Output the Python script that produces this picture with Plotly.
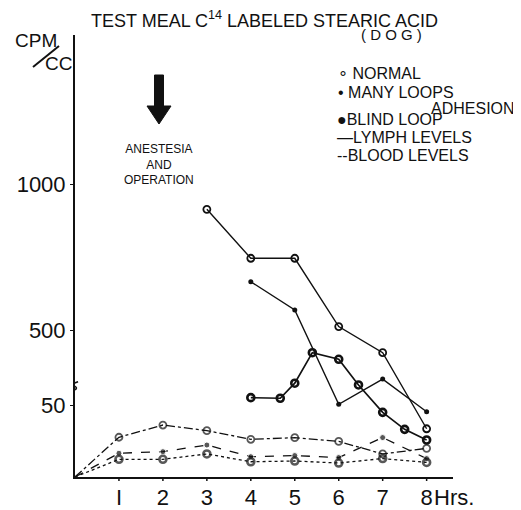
import plotly.graph_objects as go

# ---------------- data (CPM/CC) ----------------
blood_hours = [0, 1, 2, 3, 4, 5, 6, 7, 8]
normal_blood = [0, 27.6, 36.1, 32.2, 26.2, 27.3, 24.7, 16.0, 19.9]
many_loops_blood = [0, 16.5, 17.6, 22.2, 14.1, 14.9, 13.5, 27.4, 12.8]
blind_loop_blood = [0, 12.3, 12.3, 16.0, 10.6, 11.1, 9.7, 12.8, 10.1]

normal_lymph_hours = [3, 4, 5, 6, 7, 8]
normal_lymph = [914, 747, 747, 514, 425, 33.5]

many_loops_lymph_hours = [4, 5, 6, 7, 8]
many_loops_lymph = [667, 571, 50.5, 335, 45.3]

blind_loop_lymph_hours = [4, 4.67, 5, 5.4, 6, 6.45, 7, 7.5, 8]
blind_loop_lymph = [55.1, 54.7, 321, 425, 402.5, 315, 44.9, 33.1, 25.7]

x_ticks = [1, 2, 3, 4, 5, 6, 7, 8]
x_tick_labels = ["I", "2", "3", "4", "5", "6", "7", "8"]
y_ticks = [50, 500, 1000]
y_tick_labels = ["50", "500", "1000"]

# ---------------- broken y axis ----------------
LOWER_TOP = 62.5
UPPER_BOTTOM = 308.0
UPPER_FACTOR = 0.2037


def axis_y(v):
    return v if v <= LOWER_TOP else LOWER_TOP + (v - UPPER_BOTTOM) * UPPER_FACTOR


def tr(vals):
    return [axis_y(v) for v in vals]


FONT = "Liberation Sans, Arial, sans-serif"
BLACK = "#111111"

fig = go.Figure()

# lymph (solid)
fig.add_trace(go.Scatter(x=normal_lymph_hours, y=tr(normal_lymph), mode="lines+markers",
                         line=dict(color=BLACK, width=1.4),
                         marker=dict(symbol="circle-open", size=7, color=BLACK, line=dict(width=1.8))))
fig.add_trace(go.Scatter(x=many_loops_lymph_hours, y=tr(many_loops_lymph), mode="lines+markers",
                         line=dict(color=BLACK, width=1.4),
                         marker=dict(symbol="circle", size=5, color=BLACK)))
fig.add_trace(go.Scatter(x=blind_loop_lymph_hours, y=tr(blind_loop_lymph), mode="lines+markers",
                         line=dict(color=BLACK, width=1.7),
                         marker=dict(symbol="circle-open", size=7, color=BLACK, line=dict(width=2.6))))

# blood (broken lines)
msz_open = [0] + [7] * (len(blood_hours) - 1)
msz_dot = [0] + [6] * (len(blood_hours) - 1)
msz_blind = [0] + [7] * (len(blood_hours) - 1)
fig.add_trace(go.Scatter(x=blood_hours, y=tr(normal_blood), mode="lines+markers",
                         line=dict(color=BLACK, width=1.3, dash="dashdot"),
                         marker=dict(symbol="circle-open", size=msz_open, color=BLACK, line=dict(width=1.8))))
fig.add_trace(go.Scatter(x=blood_hours, y=tr(many_loops_blood), mode="lines+markers",
                         line=dict(color=BLACK, width=1.3, dash="dash"),
                         marker=dict(symbol="circle", size=msz_dot, color=BLACK)))
fig.add_trace(go.Scatter(x=blood_hours, y=tr(blind_loop_blood), mode="lines+markers",
                         line=dict(color=BLACK, width=1.3, dash="3px,3px"),
                         marker=dict(symbol="circle-open", size=msz_blind, color=BLACK, line=dict(width=2.6))))

# page geometry: the figure sits 8px in from the page corner
OFF = 8
W, H = 521 - OFF, 510 - OFF
AX_LEFT, AX_RIGHT, AX_TOP, AX_BOTTOM = 75, 453, 35, 477   # in screenshot pixels
L, R, T, B = AX_LEFT - OFF, W - (AX_RIGHT - OFF), AX_TOP - OFF, H - (AX_BOTTOM - OFF)
PW, PH = W - L - R, H - T - B


def pxx(p):
    return (p - AX_LEFT) / PW


def pxy(p):
    return (AX_BOTTOM - p) / PH


ann = []


def text(s, x, y, size, xanchor="left", yanchor="middle", align="left"):
    ann.append(dict(text=s, x=pxx(x), y=pxy(y), xref="paper", yref="paper", showarrow=False,
                    xanchor=xanchor, yanchor=yanchor, align=align, borderpad=0,
                    font=dict(family=FONT, size=size, color=BLACK)))


text("TEST MEAL C<sup>14</sup> LABELED STEARIC ACID", 264, 20, 18, xanchor="center")
text("( D O G )", 391, 34, 15, xanchor="center")
text("CPM", 36, 41, 19, xanchor="center")
text("CC", 58, 63, 19, xanchor="center")
text("ANESTESIA<br>AND<br>OPERATION", 159, 165, 12, xanchor="center", align="center")
text("∘ NORMAL", 337, 73, 16)
text("• MANY LOOPS", 337, 92, 16)
text("ADHESION", 430, 109, 16)
text("●BLIND LOOP", 336, 119, 16)
text("—LYMPH LEVELS", 336, 138, 16)
text("--BLOOD LEVELS", 336, 155, 16)
text("Hrs.", 433, 497, 22)

shapes = []
# CPM / CC slash
shapes.append(dict(type="line", xref="paper", yref="paper", x0=pxx(33), y0=pxy(67), x1=pxx(59), y1=pxy(46),
                   line=dict(color=BLACK, width=2)))
# arrow (anesthesia & operation)
ax_c = pxx(159)
hw, hh = 4.5 / PW, 12 / PW
ys0, ys1, ys2 = pxy(75), pxy(106), pxy(124)
shapes.append(dict(type="path", xref="paper", yref="paper",
                   path=f"M {ax_c - hw},{ys0} L {ax_c + hw},{ys0} L {ax_c + hw},{ys1} "
                        f"L {ax_c + hh},{ys1} L {ax_c},{ys2} L {ax_c - hh},{ys1} "
                        f"L {ax_c - hw},{ys1} Z",
                   fillcolor=BLACK, line=dict(color=BLACK, width=1)))
# small x tick marks below the axis
for xv in x_ticks:
    shapes.append(dict(type="line", xref="x", yref="paper", x0=xv, x1=xv, y0=0, y1=-4 / PH,
                       line=dict(color=BLACK, width=1.5)))
# axis break mark
bm = (LOWER_TOP + 0.5)
shapes.append(dict(type="rect", xref="x", yref="y", x0=-0.05, x1=0.05, y0=bm - 2.6, y1=bm + 2.6,
                   fillcolor="white", line=dict(width=0), layer="above"))
shapes.append(dict(type="path", xref="x", yref="y",
                   path=f"M -0.07,{bm - 3.2} Q 0.09,{bm - 1.8} 0,{bm} Q -0.09,{bm + 1.8} 0.07,{bm + 3.2}",
                   line=dict(color=BLACK, width=1.5)))

fig.update_layout(
    width=W, height=H, margin=dict(l=L, r=R, t=T, b=B, autoexpand=False),
    paper_bgcolor="white", plot_bgcolor="white", showlegend=False,
    font=dict(family=FONT, color=BLACK),
    annotations=ann, shapes=shapes,
    xaxis=dict(range=[0, 8.6], showline=True, linecolor=BLACK, linewidth=2, showgrid=False, zeroline=False,
               tickmode="array", tickvals=x_ticks, ticktext=x_tick_labels, ticks="",
               tickfont=dict(size=22, family=FONT, color=BLACK), automargin=False),
    yaxis=dict(range=[0, 307], showline=True, linecolor=BLACK, linewidth=2, showgrid=False, zeroline=False,
               tickmode="array", tickvals=tr(y_ticks), ticktext=y_tick_labels, ticks="outside", ticklen=3,
               tickcolor=BLACK, tickfont=dict(size=22, family=FONT, color=BLACK), automargin=False),
)

fig.write_html("out.html")
